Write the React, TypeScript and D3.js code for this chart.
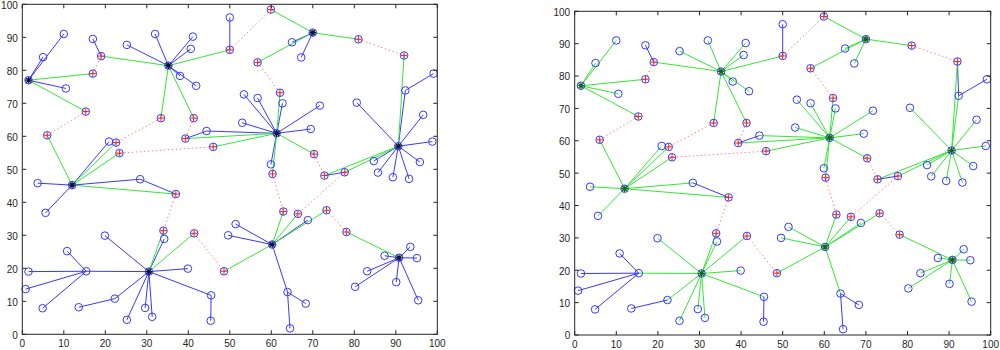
import React from 'react';
import * as d3 from 'd3';

type Pt = [number, number];
type Link = [Pt, Pt];

// cluster heads
const heads: Pt[] = [
  [1.5, 77], [35.2, 81.4], [70, 91.4], [61.3, 60.9], [90.6, 57],
  [12, 45.2], [30.5, 19], [60.2, 27.2], [90.8, 23.2],
];

// gateway nodes (red cross)
const gateways: Pt[] = [
  [17, 79], [19, 84.3], [15.3, 67.5], [6, 60.3], [50, 86.2], [59.9, 98.4],
  [33.4, 65.5], [22.6, 58.1], [41.3, 65.5], [39.3, 59.3], [81, 89.4], [92, 84.5],
  [56.7, 82.4], [62.1, 73.2], [46, 56.8], [23.4, 54.9], [70.3, 54.6], [72.8, 48.1],
  [60.3, 48.6], [62.9, 37.2], [77.7, 49.1], [66.4, 36.5], [37, 42.5], [34, 31.4],
  [41.4, 30.6], [48.6, 19.1], [73.3, 37.6], [78.1, 31],
];

// ordinary nodes
const members: Pt[] = [
  [5, 84], [10, 91], [10.5, 74.5], [17, 89.5], [25.2, 87.7], [32, 91], [41.1, 90.2],
  [40.6, 86.5], [38, 78.3], [41.9, 75.3], [50, 96], [65, 88.5], [67.2, 83.9],
  [53.4, 72.7], [56.7, 71.6], [62.7, 70], [71.7, 69.3], [53, 64.1], [69.5, 62.2],
  [59.9, 51.5], [44.4, 61.6], [80.6, 70.2], [96.6, 66.5], [98.8, 58.4], [95.8, 52.2],
  [84.7, 52.5], [85.7, 49], [89.3, 47.6], [93.2, 47.1], [92.3, 73.9], [99.1, 79],
  [20.9, 58.4], [3.7, 45.8], [5.6, 36.8], [28.4, 47], [34.2, 28.9], [19.9, 29.9],
  [15.4, 19.1], [39.9, 19.9], [45.5, 11.8], [22.3, 10.8], [25.2, 4.4], [29.6, 8],
  [31.3, 5.3], [10.8, 25.2], [1.5, 19], [0.8, 13.7], [4.9, 7.9], [13.6, 8.2],
  [45.4, 4.1], [68.8, 34.6], [51.4, 33.4], [49.6, 30], [63.9, 12.8], [68.3, 9.3],
  [64.5, 1.8], [87.3, 23.8], [93.5, 26.5], [95.1, 23.1], [83.1, 19.1], [80.2, 14.4],
  [90.1, 15.8], [95.4, 10.3],
];

// head -> member (blue on the left, green on the right)
const headLinks: Link[] = [
  [[1.5, 77], [5, 84]], [[1.5, 77], [10, 91]], [[1.5, 77], [10.5, 74.5]],
  [[35.2, 81.4], [25.2, 87.7]], [[35.2, 81.4], [32, 91]], [[35.2, 81.4], [41.1, 90.2]],
  [[35.2, 81.4], [40.6, 86.5]], [[35.2, 81.4], [38, 78.3]], [[35.2, 81.4], [41.9, 75.3]],
  [[70, 91.4], [65, 88.5]], [[70, 91.4], [67.2, 83.9]],
  [[61.3, 60.9], [53.4, 72.7]], [[61.3, 60.9], [56.7, 71.6]], [[61.3, 60.9], [62.7, 70]],
  [[61.3, 60.9], [71.7, 69.3]], [[61.3, 60.9], [53, 64.1]], [[61.3, 60.9], [69.5, 62.2]],
  [[61.3, 60.9], [59.9, 51.5]], [[61.3, 60.9], [44.4, 61.6]],
  [[90.6, 57], [80.6, 70.2]], [[90.6, 57], [96.6, 66.5]], [[90.6, 57], [98.8, 58.4]],
  [[90.6, 57], [95.8, 52.2]], [[90.6, 57], [84.7, 52.5]], [[90.6, 57], [85.7, 49]],
  [[90.6, 57], [89.3, 47.6]], [[90.6, 57], [93.2, 47.1]], [[90.6, 57], [92.3, 73.9]],
  [[12, 45.2], [20.9, 58.4]], [[12, 45.2], [3.7, 45.8]], [[12, 45.2], [5.6, 36.8]],
  [[12, 45.2], [28.4, 47]],
  [[30.5, 19], [34.2, 28.9]], [[30.5, 19], [19.9, 29.9]], [[30.5, 19], [15.4, 19.1]],
  [[30.5, 19], [39.9, 19.9]], [[30.5, 19], [45.5, 11.8]], [[30.5, 19], [22.3, 10.8]],
  [[30.5, 19], [25.2, 4.4]], [[30.5, 19], [29.6, 8]], [[30.5, 19], [31.3, 5.3]],
  [[60.2, 27.2], [68.8, 34.6]], [[60.2, 27.2], [51.4, 33.4]], [[60.2, 27.2], [49.6, 30]],
  [[60.2, 27.2], [63.9, 12.8]],
  [[90.8, 23.2], [87.3, 23.8]], [[90.8, 23.2], [93.5, 26.5]], [[90.8, 23.2], [95.1, 23.1]],
  [[90.8, 23.2], [83.1, 19.1]], [[90.8, 23.2], [80.2, 14.4]], [[90.8, 23.2], [90.1, 15.8]],
  [[90.8, 23.2], [95.4, 10.3]],
];

// head -> gateway (green)
const gatewayLinks: Link[] = [
  [[1.5, 77], [17, 79]], [[1.5, 77], [15.3, 67.5]],
  [[35.2, 81.4], [19, 84.3]], [[35.2, 81.4], [33.4, 65.5]], [[35.2, 81.4], [41.3, 65.5]],
  [[35.2, 81.4], [50, 86.2]],
  [[70, 91.4], [59.9, 98.4]], [[70, 91.4], [56.7, 82.4]], [[70, 91.4], [81, 89.4]],
  [[90.6, 57], [92, 84.5]], [[90.6, 57], [72.8, 48.1]], [[90.6, 57], [77.7, 49.1]],
  [[61.3, 60.9], [62.1, 73.2]], [[61.3, 60.9], [39.3, 59.3]], [[61.3, 60.9], [46, 56.8]],
  [[61.3, 60.9], [70.3, 54.6]], [[61.3, 60.9], [60.3, 48.6]],
  [[12, 45.2], [6, 60.3]], [[12, 45.2], [22.6, 58.1]], [[12, 45.2], [23.4, 54.9]],
  [[12, 45.2], [37, 42.5]],
  [[30.5, 19], [34, 31.4]], [[30.5, 19], [41.4, 30.6]],
  [[60.2, 27.2], [48.6, 19.1]], [[60.2, 27.2], [62.9, 37.2]], [[60.2, 27.2], [66.4, 36.5]],
  [[60.2, 27.2], [73.3, 37.6]],
  [[90.8, 23.2], [78.1, 31]],
];

// multi-hop links between nodes (blue in both)
const relayLinks: Link[] = [
  [[17, 89.5], [19, 84.3]], [[50, 96], [50, 86.2]], [[44.4, 61.6], [39.3, 59.3]],
  [[92.3, 73.9], [99.1, 79]], [[28.4, 47], [37, 42.5]],
  [[15.4, 19.1], [10.8, 25.2]], [[15.4, 19.1], [1.5, 19]], [[15.4, 19.1], [0.8, 13.7]],
  [[15.4, 19.1], [4.9, 7.9]], [[22.3, 10.8], [13.6, 8.2]], [[45.5, 11.8], [45.4, 4.1]],
  [[63.9, 12.8], [68.3, 9.3]], [[63.9, 12.8], [64.5, 1.8]], [[72.8, 48.1], [77.7, 49.1]],
];
const relayLinksRight: Link[] = [[[92, 84.5], [92.3, 73.9]]];

// gateway <-> gateway (red dotted)
const interLinks: Link[] = [
  [[17, 79], [19, 84.3]], [[15.3, 67.5], [6, 60.3]], [[50, 86.2], [59.9, 98.4]],
  [[33.4, 65.5], [22.6, 58.1]], [[41.3, 65.5], [39.3, 59.3]], [[81, 89.4], [92, 84.5]],
  [[56.7, 82.4], [62.1, 73.2]], [[46, 56.8], [23.4, 54.9]], [[70.3, 54.6], [72.8, 48.1]],
  [[60.3, 48.6], [62.9, 37.2]], [[77.7, 49.1], [66.4, 36.5]], [[37, 42.5], [34, 31.4]],
  [[41.4, 30.6], [48.6, 19.1]], [[73.3, 37.6], [78.1, 31]],
];

const ticks = d3.range(0, 101, 10);

const BLUE = '#3838ff';
const GREEN = '#33e833';
const RED = '#ff8080';
const AXIS = '#262626';

interface PanelProps {
  left: number; right: number; top: number; bottom: number;
  direct: boolean;
}

const Panel: React.FC<PanelProps> = ({ left, right, top, bottom, direct }) => {
  const x = d3.scaleLinear().domain([0, 100]).range([left, right]);
  const y = d3.scaleLinear().domain([0, 100]).range([bottom, top]);
  const seg = (l: Link, i: number, color: string, dash?: string) => (
    <line key={i} x1={x(l[0][0])} y1={y(l[0][1])} x2={x(l[1][0])} y2={y(l[1][1])}
      stroke={color} strokeWidth={1} strokeDasharray={dash} />
  );
  const r = 3.8;
  const a = 3.3;
  const relays = direct ? relayLinks.concat(relayLinksRight) : relayLinks;

  return (
    <g>
      <rect x={left} y={top} width={right - left} height={bottom - top} fill="#fff" />
      <g>{headLinks.map((l, i) => seg(l, i, direct ? GREEN : BLUE))}</g>
      <g>{relays.map((l, i) => seg(l, i, BLUE))}</g>
      <g>{gatewayLinks.map((l, i) => seg(l, i, GREEN))}</g>
      <g>{interLinks.map((l, i) => seg(l, i, RED, '1.5,2.5'))}</g>

      <g fill="none" stroke={BLUE} strokeWidth={1}>
        {members.map((p, i) => <circle key={i} cx={x(p[0])} cy={y(p[1])} r={r} />)}
      </g>
      <g>
        {gateways.map((p, i) => (
          <g key={i} transform={`translate(${x(p[0])},${y(p[1])})`}>
            <circle r={r} fill="none" stroke={BLUE} />
            <path d={`M${-a},0H${a}M0,${-a}V${a}`} stroke="#ff2020" strokeWidth={1} />
          </g>
        ))}
      </g>
      <g>
        {heads.map((p, i) => (
          <g key={i} transform={`translate(${x(p[0])},${y(p[1])})`}>
            <circle r={r} fill="none" stroke={BLUE} />
            <path d={`M${-a},0H${a}M0,${-a}V${a}M${-2.4},${-2.4}L2.4,2.4M${-2.4},2.4L2.4,${-2.4}`}
              stroke={direct ? '#116611' : '#111133'} strokeWidth={1.2} />
          </g>
        ))}
      </g>

      <g stroke={AXIS} strokeWidth={1}>
        <rect x={left} y={top} width={right - left} height={bottom - top} fill="none" />
        {ticks.map(t => (
          <g key={t}>
            <line x1={x(t)} x2={x(t)} y1={bottom} y2={bottom - 4} />
            <line x1={x(t)} x2={x(t)} y1={top} y2={top + 4} />
            <line x1={left} x2={left + 4} y1={y(t)} y2={y(t)} />
            <line x1={right} x2={right - 4} y1={y(t)} y2={y(t)} />
          </g>
        ))}
      </g>
      <g fill={AXIS} fontFamily="'Liberation Sans', Arial, sans-serif" fontSize={10}>
        {ticks.map(t => (
          <text key={'x' + t} x={x(t)} y={bottom + 13} textAnchor="middle">{t}</text>
        ))}
        {ticks.map(t => (
          <text key={'y' + t} x={left - 4.5} y={y(t) + 4.4} textAnchor="end">{t}</text>
        ))}
      </g>
    </g>
  );
};

export default function App() {
  return (
    <svg width={1000} height={350} style={{ position: 'absolute', left: 0, top: 0 }}>
      <rect width={1000} height={350} fill="#fff" />
      <Panel left={22.3} right={437.3} top={4.3} bottom={334.3} direct={false} />
      <Panel left={574.7} right={990.7} top={11.3} bottom={335} direct={true} />
    </svg>
  );
}
